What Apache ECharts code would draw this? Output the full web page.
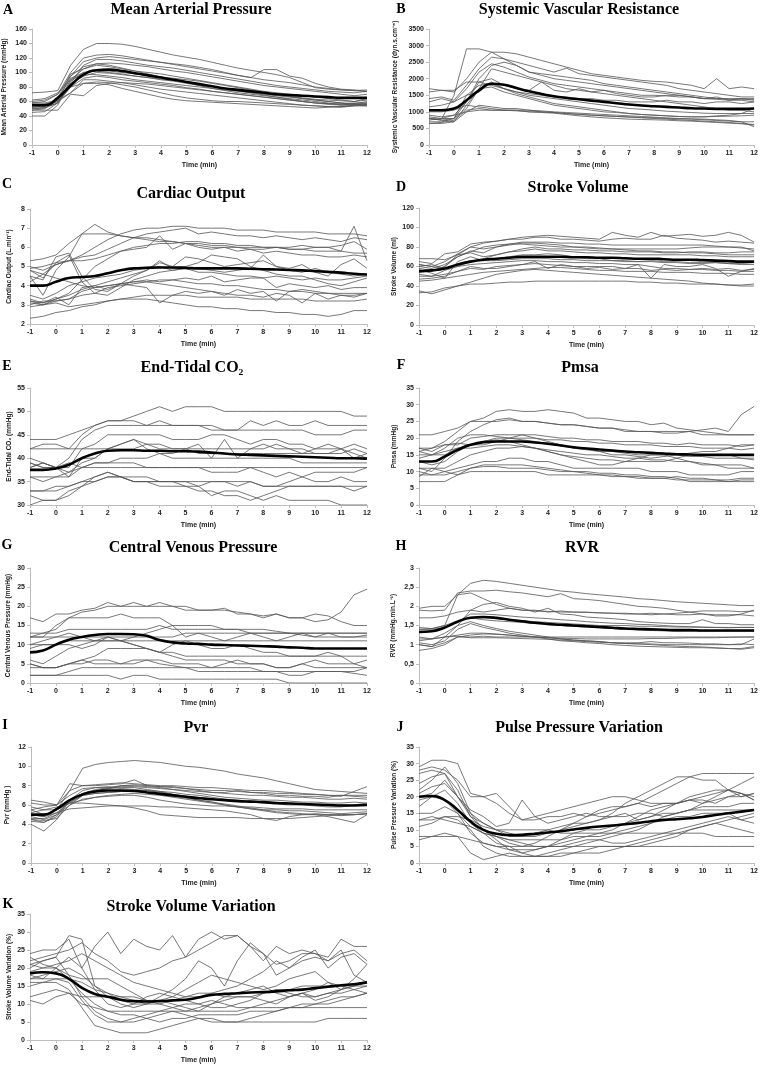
<!DOCTYPE html>
<html><head><meta charset="utf-8">
<script src="https://cdn.jsdelivr.net/npm/echarts/dist/echarts.min.js"></script>
<style>html,body{margin:0;padding:0;background:#fff}#c{width:761px;height:1065px}</style>
</head><body><div id="c"></div><script>
// time points (min)
const times = [-1,-0.5,0,0.5,1,1.5,2,2.5,3,3.5,4,4.5,5,5.5,6,6.5,7,7.5,8,8.5,9,9.5,10,10.5,11,11.5,12];

// A: Mean Arterial Pressure (mmHg)
const mapLines = [
[72,73,75,110,132,140,140,139,136,132,128,124,121,118,114,110,106,103,100,97,93,86,79,77,76,75,76],
[60,62,70,100,120,124,125,123,120,117,114,111,108,105,102,99,96,93,104,104,95,92,85,80,77,76,74],
[55,56,62,95,115,120,122,120,118,116,114,112,110,107,104,100,96,93,90,88,86,83,80,78,76,75,74],
[50,52,58,85,110,118,118,116,113,110,108,106,103,100,97,94,91,88,85,82,80,78,76,74,73,72,74],
[58,60,70,95,108,112,113,112,110,108,105,102,100,97,94,91,88,85,82,80,78,76,74,72,70,68,70],
[48,50,65,98,105,110,108,105,102,100,98,95,92,89,86,83,80,77,74,72,70,68,66,64,62,60,64],
[40,40,55,88,100,102,100,98,95,93,90,88,85,82,80,78,75,73,71,69,67,65,63,62,61,60,62],
[62,64,72,90,98,97,95,93,90,88,86,84,82,80,78,76,74,72,70,68,66,64,62,60,58,57,56],
[52,54,60,80,92,95,93,90,88,86,84,82,79,77,74,72,70,68,66,64,62,60,58,57,57,58,58],
[55,56,62,72,90,90,88,86,85,84,82,80,78,76,74,72,70,68,66,64,62,60,58,57,56,56,56],
[48,48,48,70,68,82,85,86,83,80,77,75,73,71,69,67,65,63,61,59,57,55,54,53,53,54,55],
[50,51,58,80,85,85,83,78,74,70,66,63,61,60,59,58,57,56,55,54,53,52,51,52,53,55,54],
[54,55,60,72,85,87,86,83,80,76,72,68,65,63,61,60,60,59,58,57,56,55,54,53,52,54,54],
[45,46,58,90,105,112,110,106,102,98,94,90,86,82,78,75,72,70,68,66,64,62,60,58,55,57,60],
[58,58,62,85,95,100,99,97,95,93,91,89,87,84,81,78,75,72,69,66,63,60,58,56,55,55,57],
[52,53,64,92,100,103,102,100,98,96,94,92,90,88,85,82,79,76,73,70,67,64,62,60,58,56,58]
];
const mapMean = [55,55,65,82,97,103,104,102,99,96,93,90,87,84,81,78,76,74,72,70,69,68,67,66,65,65,65];

// B: Systemic Vascular Resistance
const svrLines = [
[800,780,1500,2900,2900,2800,2600,2400,2200,2100,2000,1950,1900,1850,1800,1750,1700,1650,1600,1550,1500,1450,1400,1400,1380,1380,1400],
[1700,1650,1600,2000,2500,2800,2800,2750,2650,2550,2450,2350,2250,2150,2100,2050,2000,1950,1920,1900,1850,1800,1700,2000,1700,1750,1700],
[1400,1450,1350,1800,2300,2650,2600,2500,2400,2300,2200,2320,2150,2100,2050,2000,1950,1900,1850,1800,1700,1650,1600,1550,1500,1450,1450],
[850,800,900,1300,2000,2400,2500,2400,2200,2150,2100,2050,2000,1950,1850,1800,1750,1700,1650,1600,1550,1500,1450,1400,1400,1400,1380],
[1150,1200,1300,1700,2200,2450,2350,2200,2050,1950,1850,1800,1750,1700,1650,1600,1550,1500,1500,1480,1450,1450,1400,1380,1350,1350,1300],
[700,700,800,1300,1900,2000,1800,1700,1650,1900,1650,1600,1700,1600,1650,1550,1500,1450,1450,1500,1500,1450,1400,1450,1350,1400,1350],
[1600,1650,1650,1900,1900,1800,1700,1600,1550,1500,1450,1450,1400,1400,1350,1350,1300,1300,1300,1350,1300,1300,1250,1300,1300,1250,1300],
[1300,1400,1300,1500,1800,1850,1700,1550,1450,1350,1250,1200,1150,1100,1050,1000,950,920,900,880,860,850,850,860,870,880,900],
[800,750,700,1200,1700,1750,1600,1500,1400,1300,1200,1150,1100,1050,1000,980,950,920,900,880,860,850,850,880,900,950,1100],
[650,650,700,1000,1200,1150,1100,1100,1050,1000,980,950,920,900,880,860,840,820,800,780,760,740,720,700,680,650,600],
[650,680,750,1050,1100,1050,1050,1030,1000,980,960,920,880,850,820,800,780,770,760,750,730,720,700,680,660,640,620],
[900,850,900,1000,1050,1050,1050,1050,1000,1000,980,950,930,900,880,860,850,830,820,800,790,780,760,740,720,700,700],
[1000,1000,1050,1200,1150,1100,1050,1050,1050,1030,1000,980,960,940,920,900,880,860,840,820,800,790,780,760,740,700,550],
[750,800,800,1500,1600,1900,1700,1600,1500,1450,1400,1350,1300,1250,1200,1150,1100,1080,1050,1020,1000,980,960,950,950,950,950],
[800,750,800,1100,1700,2300,2200,2100,2000,1900,1800,1700,1650,1600,1550,1500,1450,1400,1350,1300,1250,1200,1150,1100,1050,1050,1000]
];
const svrMean = [1050,1050,1100,1350,1650,1850,1820,1720,1620,1540,1470,1420,1380,1340,1300,1260,1220,1190,1170,1150,1130,1110,1100,1090,1090,1090,1100];

// C: Cardiac Output
const coLines = [
[5.3,5.4,5.6,6.2,6.7,6.7,6.7,6.6,6.5,6.5,6.4,6.3,6.2,6.2,6.1,6.1,6.0,6.0,6.0,6.0,5.9,5.9,6.0,6.0,6.1,6.3,5.9],
[4.5,3.5,4.8,5.5,6.7,7.2,6.8,6.6,6.5,6.4,6.3,6.3,6.2,6.1,6.0,6.0,6.0,5.9,5.9,6.0,6.0,6.1,6.0,6.0,5.8,7.1,5.3],
[4.9,5.0,5.2,5.3,5.6,6.0,6.4,6.7,6.9,7.0,7.0,7.1,7.1,7.0,7.0,7.0,6.9,6.9,6.9,6.8,6.8,6.8,6.8,6.7,6.7,6.7,6.6],
[4.2,4.6,5.1,5.3,5.5,5.6,5.9,6.2,6.5,6.7,6.8,6.9,7.0,6.7,6.8,6.7,6.6,6.6,6.5,6.6,6.5,6.4,6.5,6.4,6.3,6.5,6.4],
[3.2,3.1,3.3,3.6,4.3,5.0,5.4,5.8,6.0,6.1,6.2,6.2,6.3,6.3,6.2,6.2,6.1,6.1,6.0,6.0,5.9,5.9,5.8,5.8,5.8,5.7,5.7],
[5.0,4.8,5.1,5.3,5.3,5.4,5.6,5.8,5.9,6.0,6.6,5.9,6.2,6.0,5.9,6.0,5.8,5.9,5.7,5.8,5.7,5.6,5.6,5.5,5.5,5.6,5.5],
[4.8,4.4,5.2,5.6,4.2,3.6,3.5,3.9,4.3,4.5,4.7,4.8,4.9,4.9,4.8,4.7,4.8,4.9,5.6,5.0,4.8,4.7,4.9,4.7,4.6,4.5,4.6],
[4.5,4.3,5.5,5.7,4.5,3.8,3.7,4.1,4.5,4.8,5.2,5.0,5.5,5.4,5.2,5.0,5.1,5.2,5.3,5.0,4.9,5.1,4.7,4.5,5.1,5.4,4.9],
[3.2,3.0,3.3,3.5,3.8,4.0,4.2,4.4,4.6,4.8,5.3,4.9,5.0,5.2,5.6,5.5,5.4,5.0,4.8,4.6,4.5,4.5,4.3,4.1,4.0,4.2,4.4],
[3.0,3.2,3.2,3.3,3.7,3.9,4.0,4.1,4.2,4.3,4.2,4.3,4.4,4.3,4.5,4.2,4.3,4.4,4.4,3.9,4.1,4.0,3.9,4.0,3.8,3.9,3.9],
[3.3,3.1,3.4,3.0,3.9,4.0,3.8,4.1,4.0,3.9,3.1,3.5,3.7,3.6,3.7,3.5,3.8,3.6,3.7,3.2,3.7,3.8,3.7,3.6,3.5,3.5,3.6],
[3.1,3.0,3.2,3.3,3.5,3.6,3.9,4.0,4.1,4.2,4.1,4.0,3.9,3.8,3.7,3.6,3.5,3.5,3.4,3.6,3.5,3.1,3.6,3.3,3.5,3.4,3.6],
[2.9,3.0,3.1,2.9,3.0,3.1,3.2,3.3,3.4,3.5,3.5,3.5,3.5,3.4,3.4,3.4,3.4,3.3,3.3,3.3,3.3,3.3,3.2,3.2,3.2,3.2,3.3],
[2.3,2.4,2.6,2.7,2.9,3.0,3.2,3.3,3.3,3.3,3.2,3.1,3.0,2.9,2.9,2.8,2.8,2.7,2.7,2.6,2.6,2.5,2.5,2.4,2.5,2.7,2.7],
[4.8,4.6,4.4,4.2,4.0,3.9,4.0,4.1,4.2,4.2,4.3,4.3,4.2,4.1,4.1,4.0,4.0,3.9,3.8,3.8,3.7,3.7,3.6,3.6,3.6,3.6,3.6],
[3.5,3.3,3.6,4.0,4.2,4.4,4.5,4.6,4.8,4.9,5.0,4.8,4.9,4.7,4.7,4.6,4.5,4.5,4.4,4.5,4.4,4.3,4.4,4.3,4.3,4.4,4.5]
];
const coMean = [4.0,4.0,4.2,4.4,4.45,4.5,4.65,4.8,4.9,4.93,4.95,4.95,4.93,4.9,4.9,4.9,4.9,4.88,4.86,4.84,4.82,4.8,4.76,4.72,4.68,4.62,4.58];

// D: Stroke Volume
const svLines = [
[68,68,67,72,80,84,86,88,90,91,92,91,90,89,88,95,92,90,95,91,92,93,91,92,95,92,85],
[65,63,73,75,83,85,86,88,88,90,90,88,88,87,86,88,89,88,88,92,89,88,87,85,86,85,84],
[62,60,65,73,80,78,80,83,85,85,85,84,84,83,83,82,82,82,82,82,82,82,82,81,80,80,76],
[60,58,62,70,76,74,80,82,84,84,83,82,80,80,79,78,78,78,78,78,78,79,80,80,80,79,78],
[56,55,60,72,74,70,72,75,78,80,78,78,77,77,76,76,75,75,75,74,74,75,75,74,74,75,75],
[52,50,56,60,65,68,72,75,76,78,76,76,75,74,74,73,73,72,72,72,72,72,71,71,70,70,70],
[57,53,48,65,70,66,68,70,72,72,73,72,70,68,68,66,66,65,65,64,64,63,63,64,63,62,62],
[60,62,58,60,62,63,64,65,66,66,65,65,64,64,63,63,62,62,48,62,60,60,62,58,50,55,58],
[47,48,50,55,58,57,60,61,62,63,62,61,60,60,60,60,58,62,60,58,58,57,58,57,58,56,57],
[50,50,52,55,60,58,58,60,62,65,58,62,60,58,59,57,58,58,56,57,56,57,57,56,56,55,55],
[45,46,48,50,52,54,55,56,57,58,59,59,58,57,56,56,55,55,55,54,54,54,53,53,53,52,52],
[35,32,36,40,44,48,52,54,56,57,56,55,54,53,52,51,50,49,48,47,46,45,43,42,41,40,40],
[33,34,38,40,42,42,43,44,44,45,45,45,45,45,45,45,45,44,44,43,43,42,42,42,41,41,42],
[58,56,60,70,75,80,82,83,83,82,81,80,80,79,78,78,77,76,76,75,75,74,74,73,72,72,72],
[62,60,58,62,66,66,66,67,68,68,68,67,67,66,66,66,65,65,66,65,65,64,64,64,63,63,64]
];
const svMean = [55,56,58,62,65,67,68,69,70,70,70,70,69.5,69.5,69,69,68.5,68,68,67.5,67,67,66.5,66,65.5,65,65];

// E: End-Tidal CO2
const etco2Lines = [
[44,44,44,45,46,47,48,48,49,50,51,50,51,51,51,50,50,50,50,50,50,50,50,50,50,49,49],
[42,43,43,42,45,47,48,48,48,47,48,47,47,47,47,46,46,48,47,48,47,47,48,47,47,47,47],
[39,38,38,40,44,46,47,47,47,47,47,47,47,47,46,46,46,46,46,46,46,46,45,45,45,46,46],
[38,39,38,38,42,43,45,45,45,45,45,44,44,44,45,45,44,43,44,44,43,43,42,42,42,43,42],
[42,42,42,42,42,42,42,43,44,43,43,42,42,42,42,42,42,42,42,43,42,42,41,41,41,42,41],
[38,39,38,36,40,40,42,43,44,42,41,41,42,43,40,44,40,42,43,42,42,41,41,41,42,40,41],
[40,39,38,37,39,40,42,42,42,43,42,42,42,41,41,41,41,41,41,41,41,41,42,43,42,41,40],
[39,38,38,39,38,39,39,40,40,40,41,40,40,40,40,40,40,40,40,40,40,39,39,39,39,39,39],
[36,36,36,36,38,38,38,38,38,38,38,38,38,38,38,38,38,38,38,38,38,38,38,38,38,38,38],
[36,35,36,37,38,39,39,39,39,38,38,38,38,38,37,37,37,38,37,36,37,36,37,37,37,37,38],
[33,33,33,34,35,36,37,36,36,36,35,35,35,34,35,35,34,35,34,34,35,36,35,35,36,35,35],
[32,31,31,33,34,35,36,36,35,35,34,34,34,33,33,32,32,31,32,33,34,34,34,34,34,33,34],
[30,31,31,32,34,36,37,36,35,35,35,35,34,34,32,33,33,32,31,32,31,31,31,31,30,30,30],
[33,33,34,34,35,35,36,36,35,35,35,35,35,35,35,35,35,35,34,34,34,34,34,34,34,34,34]
];
const etco2Mean = [37.5,37.5,37.8,38.6,40.0,41.0,41.6,41.7,41.7,41.6,41.6,41.5,41.5,41.4,41.2,41.0,40.8,40.7,40.6,40.5,40.4,40.3,40.2,40.1,40.0,40.0,39.9];

// F: Pmsa
const pmsaLines = [
[21,21,22,23,25,26,28,28.5,28,28,28.5,28,27.5,26,26,25.5,25,25,24,24.5,23,22.5,22,21.5,21,21,21],
[17,17,19,22,25,25,25,25.5,25,25,24.5,24,24,23.5,23,23,22.5,22,22,21.5,21.5,22,22.5,23,22,27,29.5],
[11,10,14,19,22,24,25.5,26,25,25,24.5,24,24,23.5,23,23,22,22,22,22,22,22,21,21,21,21,21],
[16,17,18,18,20,20.5,21,21,21,21,20.5,20,20,19.5,19.5,19,19,19,18.5,18.5,18,18.5,18,18,18,17.5,18],
[15,15,16,17,18,19,20,20,20,20,19.5,19.5,19,19,18.5,18.5,18,18,18,17.5,17.5,17.5,17,17,17,16.5,17],
[17,16,18,18.5,18,18,19,20,21,20,19,18,17,17,16,15,15,14.5,14,14.5,15,15.5,16,16,17,18,18],
[13,12,13,16,18,19,19.5,19,18,17,16,15,14,13,12,12,13,14,15,15,14,13,12,12,11,11,11],
[16,15,15,17,17,17.5,18,18,17.5,17,16,15,14.5,14,13.5,13.5,13,13,13,13,14,15,15,15,15,14,14],
[11,11,11,13,15,16,17,17,17.5,17,16.5,16,15.5,15,15,14.5,14,14,13.5,13.5,13,13,12.5,12,12,12,11],
[9,9,10,11,12,13,13,14,14,13,13,12,11,11,11,11,11,11,10,10,10,9,9,9,9,10,10],
[8.5,11,10,9,11,12,12,12,12,11.5,11,10.5,10,9.5,9,9,8.5,8.5,8,8,8.5,8,8,7.5,7.5,8,8],
[7,7,7,9,10,10,10,10,10,10,9,9,9,9,9,8.5,8.5,8,8,8,7.5,7.5,7.5,7.5,7,7.5,7.5],
[10,9,9,10,11,11.5,11.5,11,11,11,10.5,10,10,10,9.5,9.5,9,9,8.5,8.5,8,7,7,7,7,7,7],
[14,15,17,20,21,21,20.5,20,19.5,19,18.5,18,17,16.5,16,16,15.5,15,15,15,15,14.5,14.5,14,14,14,13.5]
];
const pmsaMean = [13,13,14.5,16.5,18,18.8,19,19,19,18.7,18.3,17.8,17.3,16.9,16.6,16.3,16,15.8,15.6,15.4,15.2,15.1,15,15,15,15,15];

// G: Central Venous Pressure
const cvpLines = [
[17,16,18,18,19,19.5,21,20,21,20,21,20,20,19,19,19,18.5,18,17.5,18,17,17,16,16.5,18.5,23,24.5],
[12,13,14,17,18.5,19,20,20,20,20,20,20,19,19,19,19.5,18,18,17,18,17,17,18,17.5,16,15,15],
[12,12,15,17,17,17,17,18,17,17,17,15,15,15,15,14,14,13,13,13,13,13,13,13,13,13,13],
[13,13,13,14,14,14,14,14,14,14,15,14,14,14,14,14,14,14,14,13.5,13,12.5,12,12,12,12,12.5],
[12,12,12,12,12,12,12,12,12,12,12,12,13,13,13,13,13,13,13,13,13,13,13,13,13,13,13],
[10,11,12,13,12,11,11,11,12,13,14,15,12,13,12,11,12,13,12,11,12,13,12,13,12,12,12],
[10,10,10,11,11,11,11,11,11,11,11,11,11,11,11,11,11,11,11,11,11,11,11,11,11,11,11],
[9,10,10,10,9,10,12,11,10,9,8,10,11,10,9,9,10,9,8,8,7,7,7,8,7,5,6],
[6,5,7,9,10,11,12,11,10,9,8,8,7,7,7,7,7,7,7,7,7,7,7,7,7,7,7],
[5,4,4,5,6,7,9,9,9,9,8,7,6,6,6,6,5,5,5,4,4,5,4,4,4,4,4],
[4,4,4,5,6,5,5,5,6,6,5,4.5,4,3,3,3,3,3,3,3,3,3,3,3,3,2.5,2],
[5,4,4,5,5,6,6,5,5,6,6,5,5,5,4,5,6,5,5,4,4,5,6,5,5,5,4],
[2,2,2,3,4,4,4,4,4,4,4,4,4,4,4,4,4,4,3,3,2,2,3,3,3,3,4],
[2,2,2,2,2,2,2,1,2,2,1,1,1,1,1,1,1,1,1,1,0,0,0,0,0,0,0]
];
const cvpMean = [8,8.5,10,11.3,12,12.5,12.8,12.8,12.7,12.3,11.2,10.6,10.3,10.2,10,9.9,9.8,9.7,9.6,9.5,9.3,9.2,9,9,9,9,9];

// H: RVR
const rvrLines = [
[1.95,2.0,2.0,2.3,2.6,2.68,2.65,2.6,2.55,2.5,2.45,2.4,2.37,2.33,2.3,2.27,2.24,2.2,2.18,2.15,2.12,2.1,2.08,2.06,2.04,2.02,2.02],
[1.9,1.88,1.9,2.35,2.4,2.4,2.42,2.38,2.35,2.3,2.25,2.33,2.2,2.18,2.15,2.1,2.05,2.0,1.98,1.95,1.9,1.85,1.8,1.75,1.75,1.8,1.9],
[1.4,1.42,1.5,2.3,2.35,2.2,2.05,1.95,1.9,1.88,1.87,1.85,1.85,1.84,1.83,1.82,1.82,1.8,1.82,1.8,1.78,1.78,1.8,1.78,1.78,1.78,1.75],
[1.7,1.7,1.75,1.85,1.9,1.85,1.9,1.95,1.9,1.9,1.85,1.88,1.85,1.85,1.83,1.82,1.8,1.8,1.78,1.8,1.82,1.85,1.88,1.88,1.88,1.86,1.88],
[1.0,0.95,1.2,1.5,1.9,2.05,2.1,2.0,1.95,1.85,1.95,1.8,1.78,1.72,1.7,1.68,1.65,1.6,1.58,1.56,1.55,1.55,1.65,1.55,1.55,1.52,1.52],
[1.4,1.4,1.45,1.6,1.8,1.8,1.78,1.75,1.72,1.7,1.68,1.65,1.63,1.6,1.58,1.56,1.55,1.53,1.52,1.5,1.48,1.47,1.46,1.45,1.45,1.45,1.45],
[1.35,1.35,1.45,1.6,1.7,1.65,1.62,1.6,1.58,1.55,1.52,1.5,1.48,1.46,1.44,1.42,1.4,1.38,1.37,1.36,1.35,1.35,1.35,1.35,1.35,1.35,1.35],
[1.1,1.15,1.3,1.5,1.6,1.5,1.42,1.35,1.3,1.25,1.2,1.15,1.12,1.1,1.08,1.05,1.03,1.02,1.02,1.0,1.0,1.0,1.0,1.0,1.0,1.02,1.0],
[1.05,1.0,1.1,1.4,1.55,1.45,1.38,1.3,1.25,1.2,1.15,1.1,1.08,1.05,1.03,1.0,0.98,0.96,0.95,0.94,0.93,0.92,0.92,0.91,0.9,0.9,0.95],
[1.2,1.15,1.2,1.25,1.3,1.3,1.28,1.25,1.22,1.2,1.18,1.15,1.12,1.1,1.08,1.05,1.03,1.02,1.0,0.98,0.96,0.95,0.94,0.92,0.9,0.88,0.92],
[0.85,0.9,1.0,1.2,1.25,1.28,1.27,1.25,1.22,1.2,1.18,1.17,1.16,1.15,1.15,1.15,1.15,1.15,1.16,1.16,1.17,1.18,1.18,1.18,1.19,1.2,1.2],
[1.0,0.95,1.05,1.2,1.2,1.22,1.2,1.2,1.2,1.2,1.2,1.2,1.2,1.2,1.2,1.2,1.2,1.2,1.2,1.2,1.2,1.2,1.2,1.2,1.2,1.2,1.2],
[1.15,1.15,1.2,1.22,1.18,1.18,1.18,1.17,1.16,1.15,1.14,1.12,1.1,1.08,1.06,1.05,1.05,1.05,1.08,1.05,1.05,1.04,1.02,1.02,1.0,1.0,1.15],
[1.45,1.42,1.5,1.62,1.7,1.7,1.68,1.66,1.63,1.6,1.58,1.56,1.54,1.52,1.5,1.5,1.5,1.48,1.48,1.47,1.46,1.46,1.45,1.45,1.44,1.45,1.45]
];
const rvrMean = [1.33,1.35,1.45,1.6,1.7,1.72,1.7,1.65,1.61,1.57,1.54,1.52,1.5,1.48,1.46,1.44,1.42,1.41,1.4,1.39,1.38,1.38,1.37,1.37,1.37,1.37,1.37];

// I: Pvr
const pvrLines = [
[6.5,6.3,6.0,7.5,9.8,10.2,10.4,10.5,10.6,10.5,10.4,10.2,10.0,9.9,9.7,9.5,9.2,9.0,8.8,8.5,8.2,7.9,7.6,7.5,7.4,7.3,7.2],
[5.5,5.8,6.0,8.2,8.0,8.1,8.2,8.3,8.2,8.1,8.0,8.0,7.9,7.8,7.8,7.7,7.6,7.5,7.5,7.4,7.3,7.2,7.1,7.0,6.9,7.4,7.9],
[5.0,4.8,5.5,7.5,8.0,8.0,8.1,8.2,8.6,8.0,7.9,7.9,7.7,7.5,7.3,7.3,7.5,7.3,7.2,7.0,7.0,6.9,6.9,6.8,7.0,6.9,6.8],
[6.2,6.0,6.0,7.0,7.7,7.8,7.8,7.9,7.9,7.8,7.7,7.6,7.5,7.4,7.3,7.2,7.1,7.0,7.0,6.9,6.8,6.8,6.7,6.6,6.6,6.7,6.6],
[4.0,3.3,4.5,6.5,7.5,7.8,7.9,7.7,7.6,7.5,7.3,7.1,6.9,6.8,6.6,6.5,6.4,6.3,6.2,6.1,6.0,6.0,5.9,5.8,5.8,6.0,6.2],
[4.5,4.4,4.6,6.0,7.0,7.5,7.7,7.8,7.8,7.6,7.4,7.1,6.8,6.5,6.3,6.0,5.8,5.6,5.4,5.2,5.1,5.0,5.0,4.8,4.5,4.2,5.0],
[4.6,4.6,5.2,6.3,7.0,7.2,7.3,7.4,7.4,7.3,7.1,6.9,6.7,6.5,6.3,6.1,5.9,5.7,5.5,5.3,5.2,5.1,5.0,5.0,4.9,5.0,5.1],
[5.2,5.5,5.8,6.2,6.5,6.8,7.0,7.1,7.2,7.1,7.0,6.8,6.6,6.4,6.2,6.0,5.8,5.6,5.5,5.5,5.4,5.4,5.3,5.2,5.1,5.2,5.3],
[4.3,4.2,5.0,6.0,6.6,6.8,6.9,7.0,7.0,6.8,6.5,6.3,6.1,6.0,5.9,5.9,5.8,5.8,5.7,5.6,5.6,5.6,5.5,5.5,5.5,5.5,5.5],
[5.8,5.5,5.5,6.2,6.2,6.1,6.0,5.9,5.7,5.4,5.0,4.9,4.8,4.7,4.7,4.7,4.7,4.6,4.6,4.6,4.6,4.7,4.8,4.9,5.0,5.0,5.1],
[5.0,4.8,5.2,5.6,5.7,5.8,5.9,5.9,5.9,5.9,5.8,5.8,5.7,5.6,5.5,5.4,5.2,5.0,4.6,4.4,4.8,5.0,5.1,5.0,5.0,5.0,5.1],
[4.5,4.2,4.8,6.5,7.2,7.5,7.7,8.0,8.1,8.0,7.9,7.8,7.7,7.6,7.5,7.5,7.4,7.3,7.3,7.2,7.2,7.1,7.1,7.0,7.0,7.0,7.0],
[5.5,5.0,5.5,6.2,7.0,7.2,7.3,7.4,7.5,7.5,7.4,7.3,7.1,7.0,6.8,6.6,6.5,6.4,6.3,6.2,6.2,6.1,6.0,6.0,6.0,6.0,6.0],
[4.8,4.5,5.0,6.5,7.2,7.6,7.8,8.0,8.0,7.9,7.8,7.6,7.4,7.2,7.0,6.8,6.7,6.6,6.5,6.5,6.4,6.3,6.3,6.2,6.2,6.3,6.2]
];
const pvrMean = [5,5,5.6,6.5,7.1,7.4,7.5,7.5,7.45,7.3,7.15,7.0,6.85,6.7,6.6,6.5,6.4,6.35,6.3,6.2,6.15,6.1,6.05,6.0,5.95,5.95,6.0];

// J: Pulse Pressure Variation
const ppvLines = [
[29,31,31,30,21,20,18,15,13,13,14,14,15,14,15,16,17,18,20,22,24,26,27,27,27,27,27],
[28,29,28,25,20,20,21,17,13,14,15,16,17,18,19,20,20,19,18,18,18,19,20,21,22,24,26],
[22,25,29,24,15,12,10,8,8,9,10,11,12,12,13,15,18,20,22,24,26,26,25,25,22,20,21],
[27,28,27,20,16,14,11,12,19,14,12,13,14,15,14,14,15,13,14,16,18,20,21,22,22,21,19],
[24,26,27,22,14,10,8,6,5,6,8,10,12,14,16,17,17,18,17,18,18,19,18,20,22,21,19],
[20,21,25,20,15,10,7,4,3,4,5,7,9,10,10,11,12,14,16,17,18,19,19,18,20,21,20],
[19,20,22,18,12,9,6,5,3,2,3,4,5,6,7,8,9,10,12,14,15,16,17,17,17,18,18],
[15,15,17,15,11,9,8,7,6,5,5,6,7,8,9,10,12,13,14,15,15,16,16,16,16,16,16],
[13,14,13,12,11,9,8,7,7,7,7,7,8,8,8,9,10,11,12,13,14,14,15,15,15,13,12],
[11,12,14,13,10,5,3,2,2,2,2,2,3,3,3,4,5,6,7,8,9,10,11,12,13,14,15],
[7,8,9,8,3,1,2,3,2,2,2,3,3,4,5,5,5,5,6,7,8,10,11,12,11,10,9],
[17,20,19,15,9,6,5,4,4,4,5,5,6,7,7,6,6,7,8,9,10,11,12,13,14,13,14],
[8,8,8,8,7,6,5,5,5,5,5,5,5,5,5,5,5,5,5,5,5,5,5,5,5,5,5],
[13,13,14,14,13,11,10,10,10,10,10,9,9,9,9,9,9,9,9,9,9,9,9,8,8,8,8],
[21,23,24,20,14,12,10,9,8,8,9,10,11,12,13,14,14,15,15,14,15,16,18,19,20,20,21]
];
const ppvMean = [20,20.2,19,16,12.5,10,8.8,8.4,8.5,8.8,9.2,9.6,10.1,10.6,11,11.3,11.7,12.1,12.6,13,13.2,13.5,13.9,14.5,15,15.5,16];

// K: Stroke Volume Variation
const svvLines = [
[24,25,25,28,20,26,30,24,28,26,25,29,23,28,30,28,29,26,22,26,24,25,24,23,28,26,26],
[22,23,24,25,27,24,22,19,18,19,20,22,23,25,27,29,29,26,24,21,22,24,24,22,24,25,22],
[20,22,23,29,28,15,12,10,9,10,12,14,17,22,20,15,22,27,24,18,20,23,25,20,23,24,21],
[21,20,21,22,24,22,20,18,16,15,14,13,12,12,13,14,15,17,19,22,20,22,23,22,25,18,16],
[17,18,19,20,18,15,13,11,10,10,11,12,14,16,18,17,16,15,14,15,17,18,19,16,14,17,21],
[18,17,20,23,20,14,10,9,10,12,13,12,11,10,9,9,10,11,13,14,13,12,12,13,14,15,16],
[19,20,20,17,13,10,8,8,8,8,8,8,8,8,8,8,8,9,9,9,9,9,9,9,9,9,9],
[16,16,17,16,11,7,5,5,6,7,8,9,10,10,11,10,9,9,10,11,12,13,12,13,13,14,15],
[15,16,16,14,9,4,3,2,2,2,3,4,5,6,6,5,5,6,7,8,9,10,10,11,12,12,13],
[21,22,23,18,12,8,6,5,5,6,7,8,7,6,5,5,5,5,5,5,5,5,5,6,6,6,6],
[12,13,14,13,10,9,8,7,7,6,5,6,6,7,7,7,7,8,8,8,9,9,10,10,11,12,13],
[23,21,20,18,17,17,17,15,13,11,10,9,8,9,10,12,13,14,15,13,12,13,14,16,15,14,13],
[11,10,12,13,12,12,12,12,12,11,11,10,9,8,10,11,12,12,11,10,12,13,11,12,14,15,15],
[17,17,17,17,16,14,13,12,11,10,10,11,12,13,13,12,12,12,13,14,14,15,15,15,15,15,16]
];
const svvMean = [18.5,18.8,18.5,17,14.5,12.8,12,11.2,10.8,10.7,10.8,11,11.2,11.8,12.5,12.8,13,13.2,13.3,13.5,13.8,14,14.4,14.8,15.2,15.5,16];

// x tick range
const xMin = -1, xMax = 12, xStep = 1;

// panel layout (positions/styles kept here, separate from data)
const panels = [
 {letter:'A', title:'Mean Arterial Pressure', tx:191, ty:10, lx:8, ly:10, g:[30,29,337,116], y:[0,160,20], yName:'Mean Arterial Pressure (mmHg)', gap:24, lines:mapLines, mean:mapMean},
 {letter:'B', title:'Systemic Vascular Resistance', tx:579, ty:10, lx:401, ly:9, g:[429,29,327,116], y:[0,3500,500], yName:'Systemic Vascular Resistance (dyn.s.cm\u207B\u2075)', gap:30, lines:svrLines, mean:svrMean},
 {letter:'C', title:'Cardiac Output', tx:191, ty:194, lx:7, ly:184, g:[30,209,337,115], y:[2,8,1], yName:'Cardiac Output (L.min\u207B\u00B9)', gap:17, lines:coLines, mean:coMean},
 {letter:'D', title:'Stroke Volume', tx:578, ty:188, lx:401, ly:187, g:[419,208,337,117], y:[0,120,20], yName:'Stroke Volume (ml)', gap:21, lines:svLines, mean:svMean},
 {letter:'E', title:'End-Tidal CO\u2082', tx:192, ty:368, lx:7, ly:366, g:[30,388,337,117], y:[30,55,5], yName:'End-Tidal CO\u2082 (mmHg)', gap:17, lines:etco2Lines, mean:etco2Mean},
 {letter:'F', title:'Pmsa', tx:580, ty:368, lx:401, ly:365, g:[419,388,337,117], y:[0,35,5], yName:'Pmsa (mmHg)', gap:21, lines:pmsaLines, mean:pmsaMean},
 {letter:'G', title:'Central Venous Pressure', tx:193, ty:548, lx:7, ly:545, g:[30,568,337,115], y:[0,30,5], yName:'Central Venous Pressure (mmHg)', gap:18, lines:cvpLines, mean:cvpMean},
 {letter:'H', title:'RVR', tx:582, ty:548, lx:401, ly:546, g:[419,568,337,115], y:[0,3,0.5], yName:'RVR (mmHg.min.L\u207B\u00B9)', gap:22, lines:rvrLines, mean:rvrMean, comma:true},
 {letter:'I', title:'Pvr', tx:196, ty:728, lx:5, ly:725, g:[31,747,336,116], y:[0,12,2], yName:'Pvr (mmHg )', gap:20, lines:pvrLines, mean:pvrMean},
 {letter:'J', title:'Pulse Pressure Variation', tx:579, ty:728, lx:400, ly:727, g:[419,747,337,116], y:[0,35,5], yName:'Pulse Pressure Variation (%)', gap:21, lines:ppvLines, mean:ppvMean},
 {letter:'K', title:'Stroke Volume Variation', tx:191, ty:907, lx:8, ly:904, g:[30,914,337,128], y:[0,35,5], yName:'Stroke Volume Variation (%)', gap:17, lines:svvLines, mean:svvMean}
];

const axisCol = '#bdbdbd';
const labelFont = 'Liberation Sans';
const option = {animation:false, backgroundColor:'#fff', title:[], grid:[], xAxis:[], yAxis:[], series:[]};

panels.forEach((p, i) => {
  option.title.push({text:p.title, left:p.tx, top:p.ty, textAlign:'center', textVerticalAlign:'middle', padding:0,
    textStyle:{fontFamily:'Liberation Serif', fontWeight:'bold', fontSize:16, color:'#000'}});
  option.title.push({text:p.letter, left:p.lx, top:p.ly, textAlign:'center', textVerticalAlign:'middle', padding:0,
    textStyle:{fontFamily:'Liberation Serif', fontWeight:'bold', fontSize:14, color:'#000'}});
  option.grid.push({left:p.g[0], top:p.g[1], width:p.g[2], height:p.g[3], containLabel:false});
  option.xAxis.push({type:'value', gridIndex:i, min:xMin, max:xMax, interval:xStep,
    name:'Time (min)', nameLocation:'middle', nameGap:17,
    nameTextStyle:{fontFamily:labelFont, fontSize:7, fontWeight:'bold', color:'#222'},
    axisLine:{show:true, onZero:false, lineStyle:{color:axisCol, width:1}},
    axisTick:{show:true, length:3, lineStyle:{color:axisCol}},
    axisLabel:{fontFamily:labelFont, fontSize:7, color:'#222', margin:5, fontWeight:'bold',
      formatter: v => String(v)},
    splitLine:{show:false}});
  option.yAxis.push({type:'value', gridIndex:i, min:p.y[0], max:p.y[1], interval:p.y[2],
    name:p.yName, nameLocation:'middle', nameGap:p.gap, nameRotate:90,
    nameTextStyle:{fontFamily:labelFont, fontSize:6.5, fontWeight:'bold', color:'#222'},
    axisLine:{show:true, onZero:false, lineStyle:{color:axisCol, width:1}},
    axisTick:{show:true, length:3, lineStyle:{color:axisCol}},
    axisLabel:{fontFamily:labelFont, fontSize:7, color:'#222', margin:5, fontWeight:'bold',
      formatter: p.comma ? (v => String(v).replace('.', ',')) : (v => String(v))},
    splitLine:{show:false}});
  p.lines.forEach(line => {
    option.series.push({type:'line', xAxisIndex:i, yAxisIndex:i, symbol:'none', silent:true, z:2,
      data: times.map((t, j) => [t, line[j]]),
      lineStyle:{color:'#555', width:0.8}});
  });
  option.series.push({type:'line', xAxisIndex:i, yAxisIndex:i, symbol:'none', silent:true, z:5, smooth:0.5,
    data: times.map((t, j) => [t, p.mean[j]]),
    lineStyle:{color:'#000', width:2.6}});
});

const chart = echarts.init(document.getElementById('c'));
chart.setOption(option);
</script></body></html>
